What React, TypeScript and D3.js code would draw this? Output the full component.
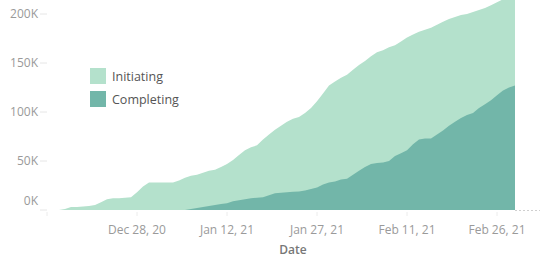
import React from "react";
import * as d3 from "d3";

// daily cumulative counts (thousands), Dec 13 2020 .. Mar 1 2021
const startDate = new Date(2020, 11, 13);
const endDate = new Date(2021, 2, 1);
const initiating = [
  0, 0, 0, 1, 3, 3, 3.5, 4, 5, 8, 11, 12, 12, 12.5, 13, 18, 24, 28, 28, 28,
  28, 28, 30, 33, 35, 36, 38, 40, 41, 44, 47, 51, 56, 61, 64, 66, 72, 77, 82, 86,
  90, 93, 95, 99, 104, 111, 119, 127, 131, 135, 138, 143, 148, 152, 157, 161, 163, 166, 168, 172,
  176, 179, 182, 184, 186, 189, 192, 195, 197, 199, 200, 202, 204, 206, 209, 212, 215, 218, 221,
];
const completing = [
  0, 0, 0, 0, 0, 0, 0, 0, 0, 0, 0, 0, 0, 0, 0, 0, 0, 0, 0, 0,
  0, 0, 0, 0, 1, 2, 3, 4, 5, 6, 7, 9, 10, 11, 12, 12.5, 13, 15, 17, 17.5,
  18, 18.5, 19, 20, 21.5, 23, 26, 28, 29, 31, 32, 36, 40, 44, 47, 48, 48.5, 50, 55, 58,
  61, 67, 72, 73, 73, 77, 81, 86, 90, 94, 97, 99, 104, 108, 112, 117, 122, 125, 127,
];
const yTicks = [0, 50, 100, 150, 200];
const xTicks = [
  new Date(2020, 11, 28),
  new Date(2021, 0, 12),
  new Date(2021, 0, 27),
  new Date(2021, 1, 11),
  new Date(2021, 1, 26),
];
const seriesNames = ["Initiating", "Completing"];
const colors = ["#b4e1cc", "#72b6a9"];

export default function App() {
  const width = 540;
  const height = 259;
  const days = d3.timeDay.range(startDate, d3.timeDay.offset(endDate, 1));

  const x = d3.scaleTime().domain([startDate, endDate]).range([47, 515]);
  const y = d3.scaleLinear().domain([0, 200]).range([210, 14]);

  const area = d3
    .area<number>()
    .x((_, i) => x(days[i]))
    .y0(y(0))
    .y1((d) => y(d));

  const fmt = d3.timeFormat("%b %d, %y");
  const font = "'Open Sans', sans-serif";

  return (
    <svg
      width={width}
      height={height}
      style={{ position: "absolute", left: 0, top: 0, background: "#fff" }}
    >
      <path d={area(initiating) || ""} fill={colors[0]} />
      <path d={area(completing) || ""} fill={colors[1]} />
      <line
        x1={x(endDate)}
        x2={width}
        y1={y(0) + 0.5}
        y2={y(0) + 0.5}
        stroke="#cfcfcf"
        strokeDasharray="2,2"
      />

      {/* y axis */}
      {yTicks.map((t) => (
        <g key={t}>
          <line x1={40} x2={47} y1={y(t)} y2={y(t)} stroke="#e6e6e6" />
          <text
            x={38}
            y={t === 0 ? y(t) - 9 : y(t)}
            dy="0.35em"
            textAnchor="end"
            fontFamily={font}
            fontSize={12}
            fill="#9a9a9a"
          >
            {t}K
          </text>
        </g>
      ))}

      {/* x axis */}
      {[startDate, ...xTicks].map((t, i) => (
        <line
          key={"tk" + i}
          x1={x(t)}
          x2={x(t)}
          y1={212}
          y2={216}
          stroke="#ececec"
        />
      ))}
      {xTicks.map((t, i) => (
        <text
          key={"xl" + i}
          x={x(t)}
          y={230}
          dy="0.35em"
          textAnchor="middle"
          fontFamily={font}
          fontSize={12}
          fill="#9a9a9a"
        >
          {fmt(t)}
        </text>
      ))}
      <text
        x={293}
        y={250}
        dy="0.35em"
        textAnchor="middle"
        fontFamily={font}
        fontSize={12}
        fontWeight={600}
        fill="#777"
      >
        Date
      </text>

      {/* legend */}
      {seriesNames.map((name, i) => (
        <g key={name} transform={`translate(90,${68 + i * 23})`}>
          <rect width={16} height={16} fill={colors[i]} />
          <text
            x={22}
            y={8.5}
            dy="0.35em"
            fontFamily={font}
            fontSize={12.5}
            fill="#555"
          >
            {name}
          </text>
        </g>
      ))}
    </svg>
  );
}
